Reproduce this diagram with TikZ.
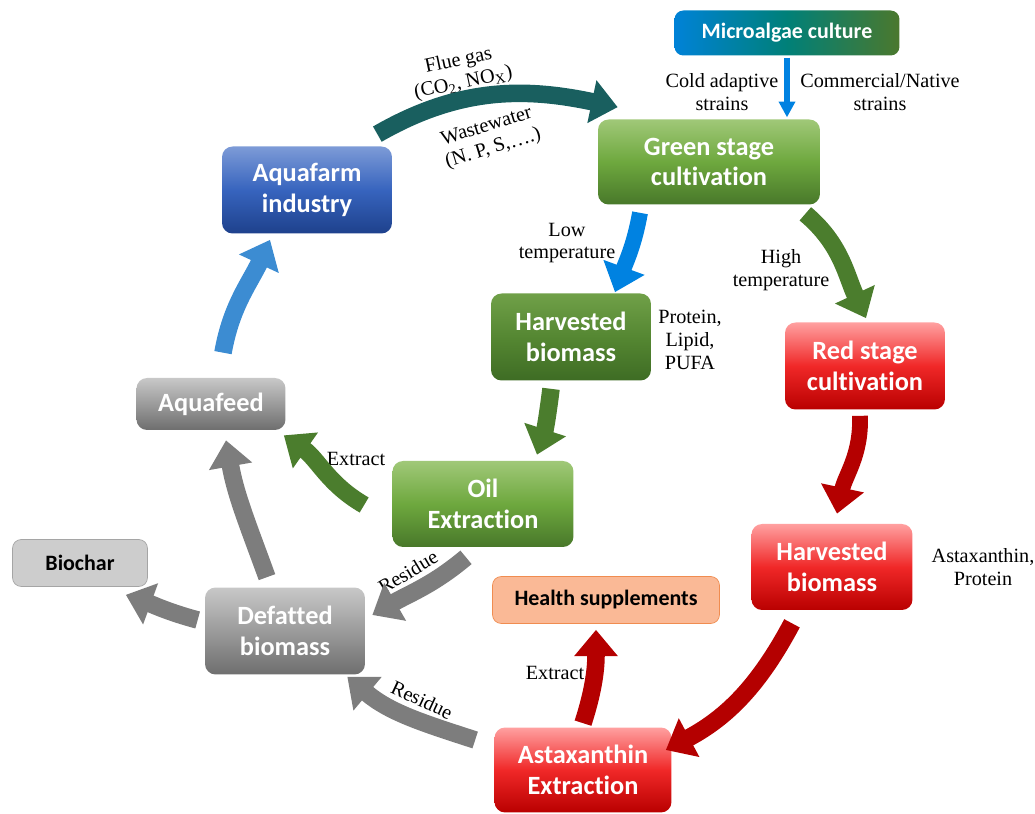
\documentclass[tikz,border=0pt]{standalone}
\usepackage{fontspec}
\setmainfont{Liberation Serif}
\newfontfamily\calfont[Ligatures=NoCommon]{Carlito}
\usetikzlibrary{arrows.meta}

\definecolor{grnTop}{RGB}{160,200,120}
\definecolor{grnMid}{RGB}{110,168,62}
\definecolor{grnBot}{RGB}{72,120,42}
\definecolor{dgrnTop}{RGB}{112,160,72}
\definecolor{dgrnMid}{RGB}{85,135,50}
\definecolor{dgrnBot}{RGB}{62,108,36}
\definecolor{redTop}{RGB}{255,160,160}
\definecolor{redMid}{RGB}{240,40,40}
\definecolor{redBot}{RGB}{185,0,0}
\definecolor{gryTop}{RGB}{200,200,200}
\definecolor{gryMid}{RGB}{155,155,155}
\definecolor{gryBot}{RGB}{110,110,110}
\definecolor{bluTop}{RGB}{125,155,215}
\definecolor{bluMid}{RGB}{55,100,190}
\definecolor{bluBot}{RGB}{30,65,140}
\definecolor{cultLeft}{RGB}{0,130,215}
\definecolor{cultMid}{RGB}{0,128,120}
\definecolor{cultRight}{RGB}{75,120,45}
\definecolor{arrGreen}{RGB}{75,125,45}
\definecolor{arrRed}{RGB}{180,0,0}
\definecolor{arrGray}{RGB}{125,125,125}
\definecolor{arrBlue}{RGB}{0,130,225}
\definecolor{flueCol}{RGB}{25,95,95}
\definecolor{feedCol}{RGB}{60,140,210}
\definecolor{charFill}{RGB}{205,205,205}
\definecolor{charLine}{RGB}{165,165,165}
\definecolor{healthFill}{RGB}{250,185,150}
\definecolor{healthLine}{RGB}{240,140,80}

\begin{document}
\begin{tikzpicture}[x=0.02cm, y=0.02cm,
    stage/.style={rounded corners=6pt, inner sep=0pt, align=center, text=white,
      font=\calfont\bfseries\fontsize{15}{17.5}\selectfont,
      minimum width=3.2cm, minimum height=1.74cm},
    greenbox/.style={stage, top color=grnTop, bottom color=grnBot, middle color=grnMid},
    darkgreenbox/.style={stage, top color=dgrnTop, bottom color=dgrnBot, middle color=dgrnMid},
    redbox/.style={stage, top color=redTop, bottom color=redBot, middle color=redMid},
    graybox/.style={stage, top color=gryTop, bottom color=gryBot, middle color=gryMid},
    bluebox/.style={stage, top color=bluTop, bottom color=bluBot, middle color=bluMid},
    tag/.style={rounded corners=5pt, inner sep=0pt, minimum height=0.94cm,
      font=\calfont\bfseries\fontsize{12.5}{15}\selectfont},
    note/.style={align=center, inner sep=0pt, font=\fontsize{11.5}{13}\selectfont},
    flow/.style={line width=10pt, -{Triangle[length=15pt,width=24pt]}}]
  \useasboundingbox (0,0) rectangle (1035,814);

  \node[bluebox, minimum width=3.4cm] (farm) at (307,624) {Aquafarm\\industry};
  \node[greenbox, minimum width=4.44cm, minimum height=1.7cm] (green) at (709,652) {Green stage\\cultivation};
  \node[tag, text=white, minimum width=4.5cm, minimum height=0.9cm,
    left color=cultLeft, right color=cultRight, middle color=cultMid] (culture) at (787,781) {Microalgae culture};
  \node[darkgreenbox] (harvG) at (571,477) {Harvested\\biomass};
  \node[redbox] (redst) at (865,448) {Red stage\\cultivation};
  \node[graybox, minimum width=2.98cm, minimum height=1.04cm] (feed) at (211,410) {Aquafeed};
  \node[greenbox, minimum width=3.62cm, minimum height=1.72cm] (oil) at (483,310) {Oil\\Extraction};
  \node[tag, draw=charLine, fill=charFill, minimum width=2.7cm] (char) at (80,251) {Biochar};
  \node[graybox] (defat) at (285,183) {Defatted\\biomass};
  \node[tag, draw=healthLine, fill=healthFill, minimum width=4.54cm] (health) at (606,214) {Health supplements};
  \node[redbox, minimum width=3.22cm, minimum height=1.72cm] (harvR) at (832,247) {Harvested\\biomass};
  \node[redbox, minimum width=3.54cm, minimum height=1.7cm] (asta) at (583,44) {Astaxanthin\\Extraction};

  \node[note, rotate=12] (flue) at (461,742) {Flue gas\\(CO\textsubscript{2}, NO\textsubscript{X})};
  \node[note, rotate=17] (waste) at (490,676) {Wastewater\\(N. P, S,….)};
  \node[note] (cold) at (722,722) {Cold adaptive\\strains};
  \node[note] (native) at (880,722) {Commercial/Native\\strains};
  \node[note] (low) at (567,571) {Low\\temperature};
  \node[note] (high) at (781,544) {High\\temperature};
  \node[note] (lipid) at (690,474) {Protein,\\Lipid,\\PUFA};
  \node[note] (astax) at (983,247) {Astaxanthin,\\Protein};
  \node[note] (extract1) at (356,355) {Extract};
  \node[note, rotate=31] (residue1) at (408,242) {Residue};
  \node[note, rotate=-25] (residue2) at (422,114) {Residue};
  \node[note] (extract2) at (555,141) {Extract};

  \draw[flow, flueCol] ([shift={(-15,12)}]farm.north east) to[out=30,in=168] ([shift={(20,12)}]green.north west);
  \draw[line width=3.5pt, -{Triangle[length=9pt,width=9pt]}, arrBlue, shorten <=1pt, shorten >=1pt]
    (culture.south) -- (culture.south |- green.north);
  \draw[flow, line width=9pt, arrBlue] ([shift={(-69,-8)}]green.south) to[out=-100,in=70] ([shift={(44,1)}]harvG.north);
  \draw[flow, arrGreen] ([shift={(-15,-9)}]green.south east) to[out=-40,in=115] ([shift={(1,4)}]redst.north);
  \draw[flow, arrGreen] ([shift={(-20,-8)}]harvG.south) to[out=-97,in=72] ([shift={(54,6)}]oil.north);
  \draw[flow, line width=9pt, arrRed] ([shift={(-5,-6)}]redst.south) to[out=-88,in=78] ([shift={(5,10)}]harvR.north);
  \draw[flow, arrRed] ([shift={(-40,-13)}]harvR.south) to[out=-118,in=28] ([shift={(-6,20)}]asta.east);
  \draw[flow, arrRed] ([shift={(0,4)}]asta.north) to[out=72,in=-90] ([shift={(-10,-6)}]health.south);
  \draw[flow, arrGray] ([shift={(-19,30)}]asta.west) to[out=162,in=-40] ([shift={(-18,-2)}]defat.south east);
  \draw[flow, arrGray] ([shift={(-17,-10)}]oil.south) to[out=-140,in=30] ([shift={(7,16)}]defat.east);
  \draw[flow, arrGreen] ([shift={(-28,-1)}]oil.west) to[out=150,in=-35] ([shift={(-2,-5)}]feed.south east);
  \draw[flow, arrGray] ([shift={(-18,10)}]defat.north) to[out=110,in=-80] ([shift={(15,-10)}]feed.south);
  \draw[flow, arrGray] ([shift={(-7,11)}]defat.west) to[out=165,in=-20] ([shift={(-22,-8)}]char.south east);
  \draw[flow, feedCol] ([shift={(12,25)}]feed.north) to[out=80,in=-115] ([shift={(-37,-6)}]farm.south);
\end{tikzpicture}
\end{document}
